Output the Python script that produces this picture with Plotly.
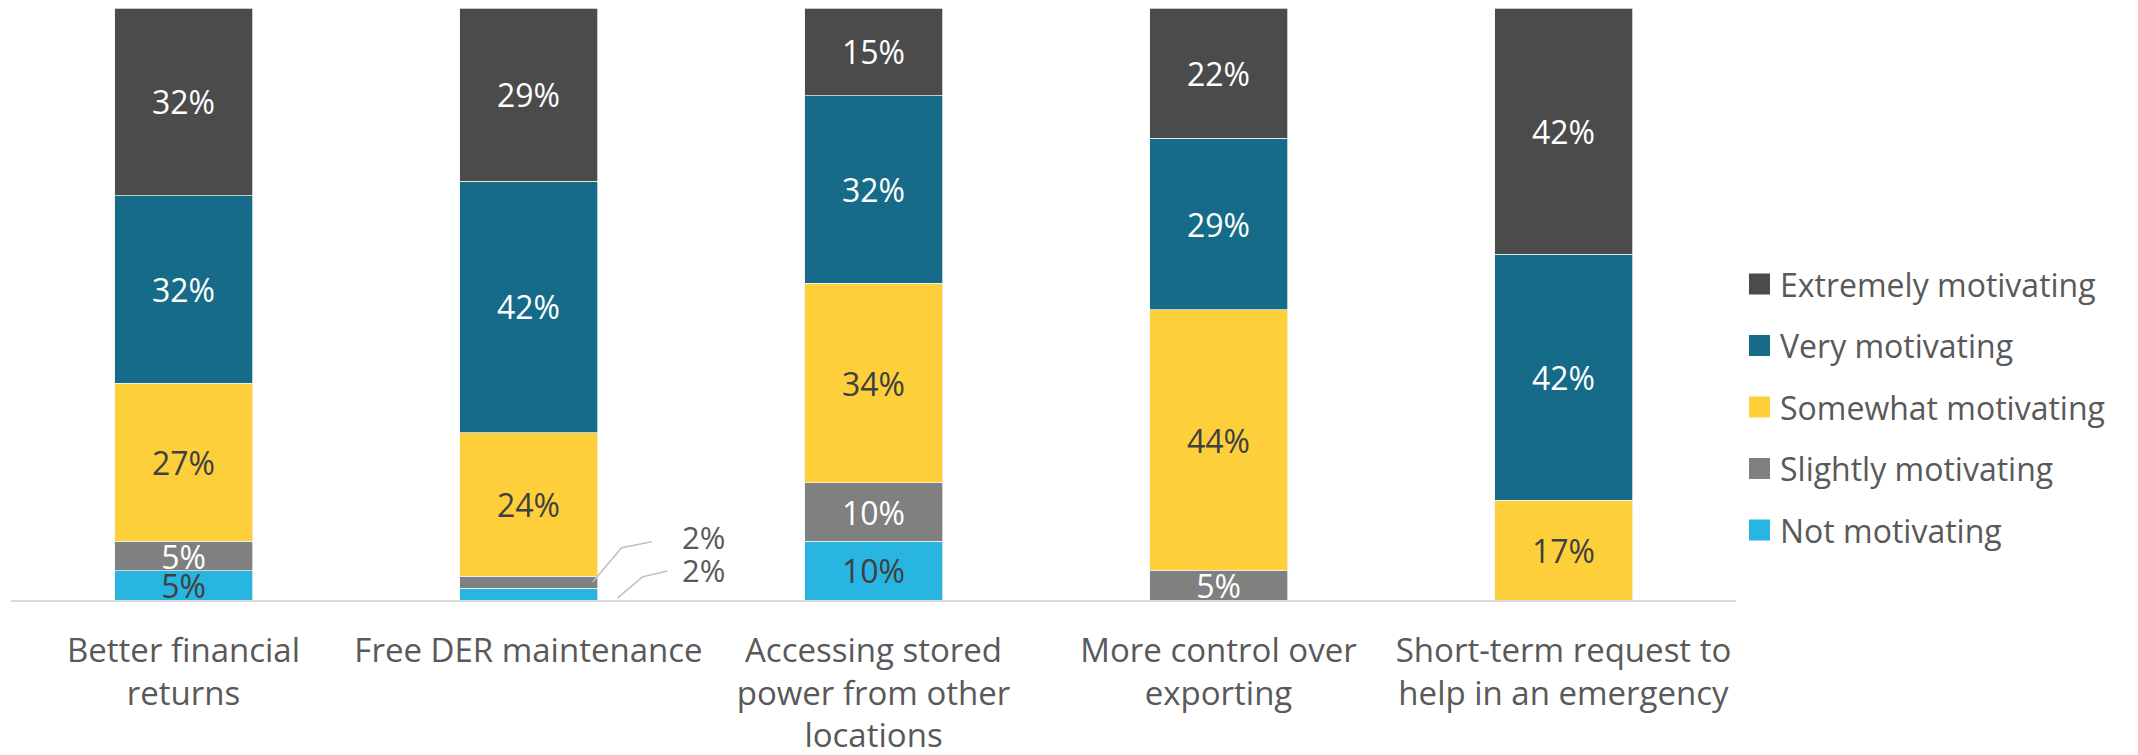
import plotly.graph_objects as go

# Survey categories and their wrapped tick labels
categories = [
    "Better financial returns",
    "Free DER maintenance",
    "Accessing stored power from other locations",
    "More control over exporting",
    "Short-term request to help in an emergency",
]
tick_labels = [
    "Better financial<br>returns",
    "Free DER maintenance",
    "Accessing stored<br>power from other<br>locations",
    "More control over<br>exporting",
    "Short-term request to<br>help in an emergency",
]

# Share of respondents (%) per motivation level, stacked bottom to top
not_motivating = [5, 2, 10, 0, 0]
slightly_motivating = [5, 2, 10, 5, 0]
somewhat_motivating = [27, 24, 34, 44, 17]
very_motivating = [32, 42, 32, 29, 42]
extremely_motivating = [32, 29, 15, 22, 42]

series = [
    ("Not motivating", not_motivating, "#29B5E1", "#404040"),
    ("Slightly motivating", slightly_motivating, "#808080", "#FFFFFF"),
    ("Somewhat motivating", somewhat_motivating, "#FDD03B", "#404040"),
    ("Very motivating", very_motivating, "#156B88", "#FFFFFF"),
    ("Extremely motivating", extremely_motivating, "#4B4B4B", "#FFFFFF"),
]

FONT = "Open Sans"
W, H = 2138, 755
ML, MR, MT, MB = 11, 402, 8, 155
PLOT_W = W - ML - MR
PLOT_H = H - MT - MB

fig = go.Figure()
for name, vals, color, tcolor in series:
    fig.add_trace(go.Bar(
        x=categories,
        y=vals,
        name=name,
        marker=dict(color=color, line=dict(color="#F2F2F2", width=0.75)),
        text=[f"{v}%" if v >= 5 else "" for v in vals],
        textposition="inside",
        insidetextanchor="middle",
        constraintext="none",
        textfont=dict(family=FONT, size=32, color=tcolor),
        showlegend=False,
        hoverinfo="skip",
    ))

# Callout labels with bent leader lines for segments too thin to hold text
totals = [sum(s[1][i] for s in series) for i in range(len(categories))]
shapes = []
annotations = []
callout_style = [
    # (series index, leader points as (dx, dy) from bar centre / segment mid, label dx, label dy)
    (1, [(0.186, 0.0), (0.270, 5.8), (0.357, 6.8)], 0.438, 7.6),
    (0, [(0.258, -0.7), (0.330, 2.9), (0.403, 3.9)], 0.438, 4.0),
]
for ci, cat in enumerate(categories):
    for si, pts, lx, ly in callout_style:
        v = series[si][1][ci]
        if not (0 < v < 5):
            continue
        base = sum(series[k][1][ci] for k in range(si))
        mid = (base + v / 2) / totals[ci] * 100
        path = "M " + " L ".join(f"{ci + dx},{mid + dy}" for dx, dy in pts)
        shapes.append(dict(type="path", path=path, xref="x", yref="y",
                           line=dict(color="#BFBFBF", width=1.5)))
        annotations.append(dict(x=ci + lx, y=mid + ly, xref="x", yref="y",
                                text=f"{v}%", showarrow=False, xanchor="left",
                                yanchor="middle",
                                font=dict(family=FONT, size=31, color="#595959")))

# Legend: swatches and labels, top entry is the top of the stack
leg_x_px = 1749
leg_y0_px = 284
leg_step_px = 61.5
sw = 21
for k, (name, vals, color, tcolor) in enumerate(reversed(series)):
    cy = leg_y0_px + k * leg_step_px
    shapes.append(dict(
        type="rect", xref="paper", yref="paper",
        x0=(leg_x_px - ML) / PLOT_W, x1=(leg_x_px + sw - ML) / PLOT_W,
        y0=(MT + PLOT_H - cy - sw / 2) / PLOT_H, y1=(MT + PLOT_H - cy + sw / 2) / PLOT_H,
        fillcolor=color, line=dict(width=0),
    ))
    annotations.append(dict(
        x=(leg_x_px + 29 - ML) / PLOT_W, y=(MT + PLOT_H - cy) / PLOT_H,
        xref="paper", yref="paper", text=name, showarrow=False,
        xanchor="left", yanchor="middle",
        font=dict(family=FONT, size=32, color="#595959"),
    ))

fig.update_layout(
    width=W, height=H,
    margin=dict(l=ML, r=MR, t=MT, b=MB, autoexpand=False),
    barmode="stack",
    barnorm="percent",
    bargap=0.6,
    plot_bgcolor="white",
    paper_bgcolor="white",
    font=dict(family=FONT, color="#595959"),
    shapes=shapes,
    annotations=annotations,
    showlegend=False,
)
fig.update_xaxes(
    tickvals=categories, ticktext=tick_labels,
    showline=True, linecolor="#D9D9D9", linewidth=2,
    showgrid=False, ticks="", automargin=False,
    tickfont=dict(family=FONT, size=33, color="#595959"),
    ticklabelstandoff=20,
)
fig.update_yaxes(range=[0, 100], visible=False, showgrid=False, automargin=False)

fig.write_html("out.html")
